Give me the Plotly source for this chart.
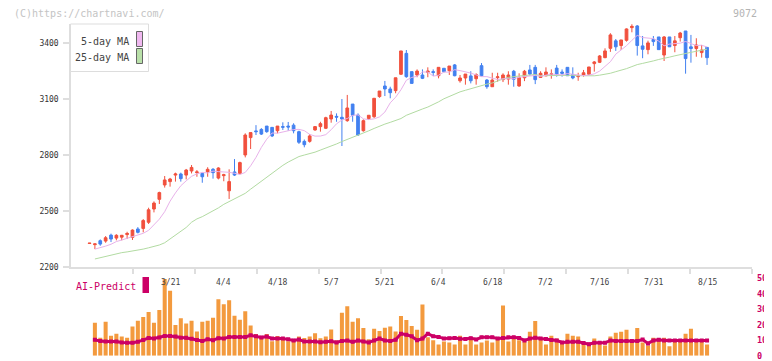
import plotly.graph_objects as go

W, H = 772, 361
PAGE_OFFSET = 8  # default body margin of the html page

# ---------------- data ----------------
dates = [
    "2/27", "2/28", "3/3", "3/4", "3/5", "3/6", "3/7", "3/10", "3/11", "3/12",
    "3/13", "3/14", "3/17", "3/18", "3/19", "3/21", "3/24", "3/25", "3/26", "3/27",
    "3/28", "3/31", "4/1", "4/2", "4/3", "4/4", "4/7", "4/8", "4/9", "4/10",
    "4/11", "4/14", "4/15", "4/16", "4/17", "4/18", "4/21", "4/22", "4/23", "4/24",
    "4/25", "4/28", "4/30", "5/1", "5/2", "5/7", "5/8", "5/9", "5/12", "5/13",
    "5/14", "5/15", "5/16", "5/19", "5/20", "5/21", "5/22", "5/23", "5/26", "5/27",
    "5/28", "5/29", "5/30", "6/2", "6/3", "6/4", "6/5", "6/6", "6/9", "6/10",
    "6/11", "6/12", "6/13", "6/16", "6/17", "6/18", "6/19", "6/20", "6/23", "6/24",
    "6/25", "6/26", "6/27", "6/30", "7/1", "7/2", "7/3", "7/4", "7/7", "7/8",
    "7/9", "7/10", "7/11", "7/14", "7/15", "7/16", "7/17", "7/18", "7/22", "7/23",
    "7/24", "7/25", "7/28", "7/29", "7/30", "7/31", "8/1", "8/4", "8/5", "8/6",
    "8/7", "8/8", "8/12", "8/13", "8/14", "8/15",
]

opens = [
    2326, 2320, 2341, 2339, 2371, 2355, 2360, 2374, 2359, 2404,
    2407, 2440, 2511, 2563, 2640, 2658, 2693, 2699, 2693, 2715,
    2706, 2702, 2710, 2724, 2677, 2690, 2609, 2710, 2701, 2801,
    2894, 2930, 2938, 2956, 2949, 2931, 2953, 2956, 2961, 2926,
    2874, 2874, 2935, 2953, 2944, 2994, 3008, 3003, 2985, 3074,
    3015, 2931, 2996, 3006, 3114, 3171, 3155, 3146, 3234, 3346,
    3248, 3230, 3230, 3244, 3248, 3226, 3266, 3253, 3284, 3199,
    3214, 3225, 3210, 3280, 3203, 3167, 3216, 3205, 3208, 3250,
    3171, 3215, 3257, 3271, 3217, 3225, 3233, 3267, 3246, 3271,
    3232, 3221, 3229, 3234, 3291, 3298, 3323, 3373, 3413, 3388,
    3416, 3484, 3493, 3386, 3366, 3421, 3434, 3337, 3434, 3388,
    3430, 3466, 3381, 3372, 3350, 3378,
]
highs = [
    2328, 2325, 2348, 2366, 2379, 2376, 2372, 2389, 2402, 2414,
    2457, 2518, 2552, 2604, 2688, 2678, 2706, 2706, 2726, 2747,
    2720, 2706, 2735, 2731, 2735, 2700, 2724, 2779, 2765, 2917,
    2921, 2961, 2945, 2956, 2949, 2956, 2976, 2978, 2971, 2931,
    2884, 2913, 2956, 2979, 3006, 3037, 3024, 3101, 3123, 3074,
    3024, 2992, 3014, 3105, 3144, 3198, 3167, 3215, 3359, 3364,
    3248, 3260, 3260, 3271, 3260, 3271, 3266, 3278, 3289, 3230,
    3235, 3250, 3239, 3294, 3208, 3242, 3242, 3239, 3250, 3257,
    3239, 3257, 3284, 3284, 3250, 3271, 3260, 3284, 3260, 3271,
    3271, 3242, 3257, 3273, 3305, 3337, 3373, 3454, 3423, 3418,
    3480, 3502, 3498, 3439, 3414, 3439, 3434, 3439, 3434, 3439,
    3461, 3466, 3445, 3427, 3391, 3378,
]
lows = [
    2326, 2296, 2314, 2330, 2334, 2343, 2343, 2350, 2345, 2380,
    2386, 2431, 2493, 2538, 2626, 2631, 2658, 2658, 2670, 2702,
    2684, 2652, 2684, 2674, 2670, 2660, 2565, 2688, 2697, 2788,
    2833, 2908, 2908, 2920, 2897, 2917, 2935, 2931, 2917, 2860,
    2842, 2867, 2931, 2926, 2940, 2974, 2979, 2849, 2979, 2979,
    2903, 2926, 2989, 3000, 3108, 3117, 3105, 3132, 3230, 3215,
    3185, 3218, 3208, 3218, 3225, 3212, 3244, 3230, 3223, 3189,
    3178, 3185, 3178, 3223, 3156, 3167, 3194, 3192, 3178, 3167,
    3167, 3197, 3226, 3181, 3214, 3225, 3210, 3221, 3221, 3226,
    3207, 3199, 3221, 3230, 3248, 3294, 3320, 3354, 3359, 3364,
    3409, 3459, 3334, 3320, 3341, 3386, 3366, 3305, 3381, 3352,
    3409, 3237, 3296, 3328, 3323, 3284,
]
closes = [
    2328, 2324, 2323, 2357, 2350, 2370, 2370, 2380, 2398, 2386,
    2449, 2507, 2543, 2599, 2667, 2672, 2699, 2674, 2720, 2734,
    2710, 2684, 2724, 2706, 2731, 2695, 2658, 2693, 2760, 2908,
    2921, 2926, 2913, 2926, 2903, 2956, 2950, 2951, 2931, 2869,
    2856, 2903, 2953, 2969, 3001, 3015, 3004, 2994, 3053, 3014,
    2908, 2985, 3014, 3105, 3144, 3155, 3135, 3215, 3359, 3221,
    3185, 3251, 3212, 3251, 3244, 3271, 3248, 3278, 3226, 3214,
    3235, 3199, 3232, 3226, 3167, 3203, 3220, 3230, 3230, 3207,
    3217, 3250, 3235, 3205, 3239, 3246, 3236, 3228, 3239, 3226,
    3214, 3226, 3242, 3273, 3300, 3332, 3359, 3445, 3381, 3418,
    3477, 3491, 3388, 3368, 3402, 3409, 3366, 3434, 3381, 3413,
    3455, 3318, 3372, 3391, 3364, 3323,
]

# moving-average values at the start of the window (they rely on days before the chart)
ma5_lead = [2296, 2303, 2312, 2322]
ma25_lead = [2243, 2250, 2258, 2265, 2272, 2277, 2281, 2285, 2290, 2296,
             2303, 2310, 2318, 2330, 2350, 2370, 2390, 2412, 2440, 2458,
             2470, 2485, 2500, 2517]

# AI-Predict panel (from the 2nd trading day on)
ai_bars = [
    21.4, 11.7, 22.0, 13.0, 14.3, 12.4, 11.7, 18.9, 22.6, 25.0,
    28.3, 21.4, 29.6, 49.5, 41.9, 19.9, 24.3, 20.8, 22.6, 15.7,
    22.0, 22.6, 24.5, 36.5, 33.3, 35.8, 25.8, 23.3, 28.7, 19.5,
    14.0, 11.9, 14.0, 9.4, 12.8, 11.7, 9.4, 10.9, 12.4, 11.5,
    12.4, 14.5, 11.3, 12.4, 17.0, 10.0, 27.7, 31.9, 22.0, 24.3,
    18.0, 10.7, 17.4, 16.0, 18.1, 18.9, 15.7, 25.6, 23.1, 19.3,
    16.8, 33.1, 12.0, 10.0, 7.3, 9.2, 8.6, 7.3, 13.0, 7.3,
    11.1, 7.3, 8.6, 9.9, 8.6, 10.3, 32.5, 9.2, 11.1, 10.0,
    9.2, 15.5, 22.4, 11.1, 7.3, 13.0, 11.1, 8.0, 14.3, 13.0,
    12.4, 7.8, 7.1, 11.1, 7.3, 6.7, 12.4, 14.9, 15.5, 16.8,
    9.2, 18.0, 8.6, 6.7, 11.7, 11.1, 11.7, 6.1, 9.9, 9.2,
    14.3, 17.4, 9.2, 9.9, 7.3,
]
ai_line = [
    10.3, 9.5, 9.2, 9.2, 9.2, 8.6, 8.4, 8.4, 9.0, 10.2,
    11.5, 11.2, 11.8, 12.8, 12.8, 12.4, 11.7, 11.7, 11.0, 10.2,
    9.6, 10.7, 10.0, 11.4, 11.1, 12.1, 12.2, 12.2, 12.2, 13.2,
    12.6, 11.8, 12.4, 11.1, 11.1, 11.1, 10.6, 9.9, 10.5, 9.2,
    9.2, 9.2, 8.7, 9.1, 9.4, 8.6, 9.6, 9.9, 9.0, 9.9,
    9.2, 8.6, 9.9, 11.1, 9.9, 9.6, 10.3, 14.3, 13.6, 12.6,
    10.0, 11.1, 14.3, 12.6, 12.2, 11.1, 11.3, 11.5, 11.0, 10.8,
    11.4, 10.5, 11.9, 11.9, 11.9, 11.1, 11.5, 11.9, 11.9, 11.5,
    9.9, 11.1, 11.7, 11.1, 10.8, 10.2, 9.9, 8.6, 9.0, 9.0,
    9.0, 8.2, 7.5, 8.4, 8.4, 8.4, 9.9, 9.6, 9.6, 9.6,
    9.6, 9.6, 10.5, 8.0, 9.9, 10.3, 9.9, 9.9, 9.9, 9.9,
    9.9, 9.9, 9.9, 9.9, 9.9,
]

tick_labels = ["3/21", "4/4", "4/18", "5/7", "5/21", "6/4", "6/18", "7/2", "7/16", "7/31", "8/15"]
price_ticks = [2200, 2500, 2800, 3100, 3400]
ai_ticks = [0, 10, 20, 30, 40, 50]

# ---------------- helpers ----------------
def px_x(px):
    return (px - PAGE_OFFSET) / W


def px_y(py):
    return 1 - (py - PAGE_OFFSET) / H


def trailing_mean(values, window, lead):
    out = [None] + list(lead)
    for i in range(len(out), len(values)):
        out.append(sum(values[i - window:i]) / window)
    return out


idx = list(range(len(dates)))
ai_idx = idx[len(idx) - len(ai_bars):]
ma5 = trailing_mean(closes, 5, ma5_lead)
ma25 = trailing_mean(closes, 25, ma25_lead)

RED = "#f1503d"
BLUE = "#4280f0"
PINK = "#e8b2ea"
GREEN = "#b2dba2"
ORANGE = "#f39a3e"
CRIMSON = "#cc0066"
AXIS = "#dedede"
FONT = "DejaVu Sans Mono"

x0, x1 = -3.45, 123.37
grid_ticks = [x0 + k * (x1 - x0) / 11 for k in range(1, 12)]

fig = go.Figure()

fig.add_trace(go.Scatter(x=idx, y=ma25, mode="lines", line=dict(color=GREEN, width=1),
                         hoverinfo="skip", showlegend=False))
fig.add_trace(go.Scatter(x=idx, y=ma5, mode="lines", line=dict(color=PINK, width=1),
                         hoverinfo="skip", showlegend=False))
fig.add_trace(go.Candlestick(
    x=idx, open=opens, high=highs, low=lows, close=closes,
    increasing=dict(line=dict(color=RED, width=1), fillcolor=RED),
    decreasing=dict(line=dict(color=BLUE, width=1), fillcolor=BLUE),
    whiskerwidth=0, showlegend=False, hoverinfo="skip",
))

fig.add_trace(go.Bar(x=ai_idx, y=ai_bars, xaxis="x2", yaxis="y2",
                     marker=dict(color=ORANGE, line=dict(width=0)),
                     showlegend=False, hoverinfo="skip"))
fig.add_trace(go.Scatter(x=ai_idx, y=ai_line, xaxis="x2", yaxis="y2", mode="lines+markers",
                         line=dict(color=CRIMSON, width=3),
                         marker=dict(color=CRIMSON, size=4, symbol="square"),
                         showlegend=False, hoverinfo="skip"))

annotations = []
for lab in tick_labels:
    annotations.append(dict(x=dates.index(lab), xref="x", y=px_y(282), yref="paper",
                            text=lab, showarrow=False, xanchor="center", yanchor="middle",
                            font=dict(family=FONT, size=8, color="#444444")))

annotations += [
    dict(x=px_x(12), y=px_y(14), xref="paper", yref="paper", text="(C)https://chartnavi.com/",
         showarrow=False, xanchor="left", yanchor="middle",
         font=dict(family=FONT, size=10, color="#c4c4c4")),
    dict(x=px_x(759), y=px_y(14), xref="paper", yref="paper", text="9072",
         showarrow=False, xanchor="right", yanchor="middle",
         font=dict(family=FONT, size=10, color="#b4b4b4")),
    dict(x=px_x(131), y=px_y(41), xref="paper", yref="paper", text="5-day MA",
         showarrow=False, xanchor="right", yanchor="middle",
         font=dict(family=FONT, size=10, color="#444444")),
    dict(x=px_x(131), y=px_y(57), xref="paper", yref="paper", text="25-day MA",
         showarrow=False, xanchor="right", yanchor="middle",
         font=dict(family=FONT, size=10, color="#444444")),
    dict(x=px_x(74), y=px_y(286), xref="paper", yref="paper", text="AI-Predict",
         showarrow=False, xanchor="left", yanchor="middle",
         font=dict(family=FONT, size=10, color=CRIMSON)),
]

shapes = [
    dict(type="rect", xref="paper", yref="paper", x0=px_x(70.5), x1=px_x(148.5),
         y0=px_y(71.5), y1=px_y(24), line=dict(color="#dddddd", width=1),
         fillcolor="white", layer="above"),
    dict(type="rect", xref="paper", yref="paper", x0=px_x(136.5), x1=px_x(142.5),
         y0=px_y(46.5), y1=px_y(31.5), line=dict(color="#666666", width=1),
         fillcolor="#f0b8f0", layer="above"),
    dict(type="rect", xref="paper", yref="paper", x0=px_x(136.5), x1=px_x(142.5),
         y0=px_y(63.5), y1=px_y(48.5), line=dict(color="#666666", width=1),
         fillcolor="#b9e0a9", layer="above"),
    dict(type="rect", xref="paper", yref="paper", x0=px_x(142.5), x1=px_x(149),
         y0=px_y(293), y1=px_y(277), line=dict(width=0),
         fillcolor=CRIMSON, layer="above"),
]

fig.update_layout(
    width=W, height=H,
    margin=dict(l=0, r=0, t=0, b=0),
    paper_bgcolor="white", plot_bgcolor="white",
    showlegend=False,
    boxgap=0.28, bargap=0.25,
    annotations=annotations, shapes=shapes,
    xaxis=dict(domain=[px_x(71), px_x(752)], range=[x0, x1], anchor="y",
               showline=True, linecolor=AXIS, linewidth=1.5,
               tickmode="array", tickvals=grid_ticks, showticklabels=False,
               ticks="outside", ticklen=5, tickwidth=1.5, tickcolor=AXIS,
               showgrid=False, zeroline=False, rangeslider=dict(visible=False),
               automargin=False, fixedrange=True),
    yaxis=dict(domain=[px_y(267), px_y(24)], range=[2200, 3503.5], anchor="x",
               showline=True, linecolor=AXIS, linewidth=1.5,
               tickmode="array", tickvals=price_ticks,
               ticks="outside", ticklen=6, tickwidth=1.5, tickcolor=AXIS,
               ticklabelstandoff=3,
               tickfont=dict(family=FONT, size=8, color="#333333"),
               showgrid=False, zeroline=False, automargin=False, fixedrange=True),
    xaxis2=dict(domain=[px_x(71), px_x(752)], range=[x0, x1], anchor="y2",
                showline=False, showticklabels=False, ticks="", showgrid=False,
                zeroline=False, automargin=False, fixedrange=True),
    yaxis2=dict(domain=[px_y(355.8), px_y(278.3)], range=[0, 50], anchor="x2", side="right",
                tickmode="array", tickvals=ai_ticks, ticks="", showline=False,
                ticklabelstandoff=4,
                tickfont=dict(family=FONT, size=8.5, color=CRIMSON, weight="bold"),
                showgrid=False, zeroline=False, automargin=False, fixedrange=True),
)

fig.write_html("out.html")
